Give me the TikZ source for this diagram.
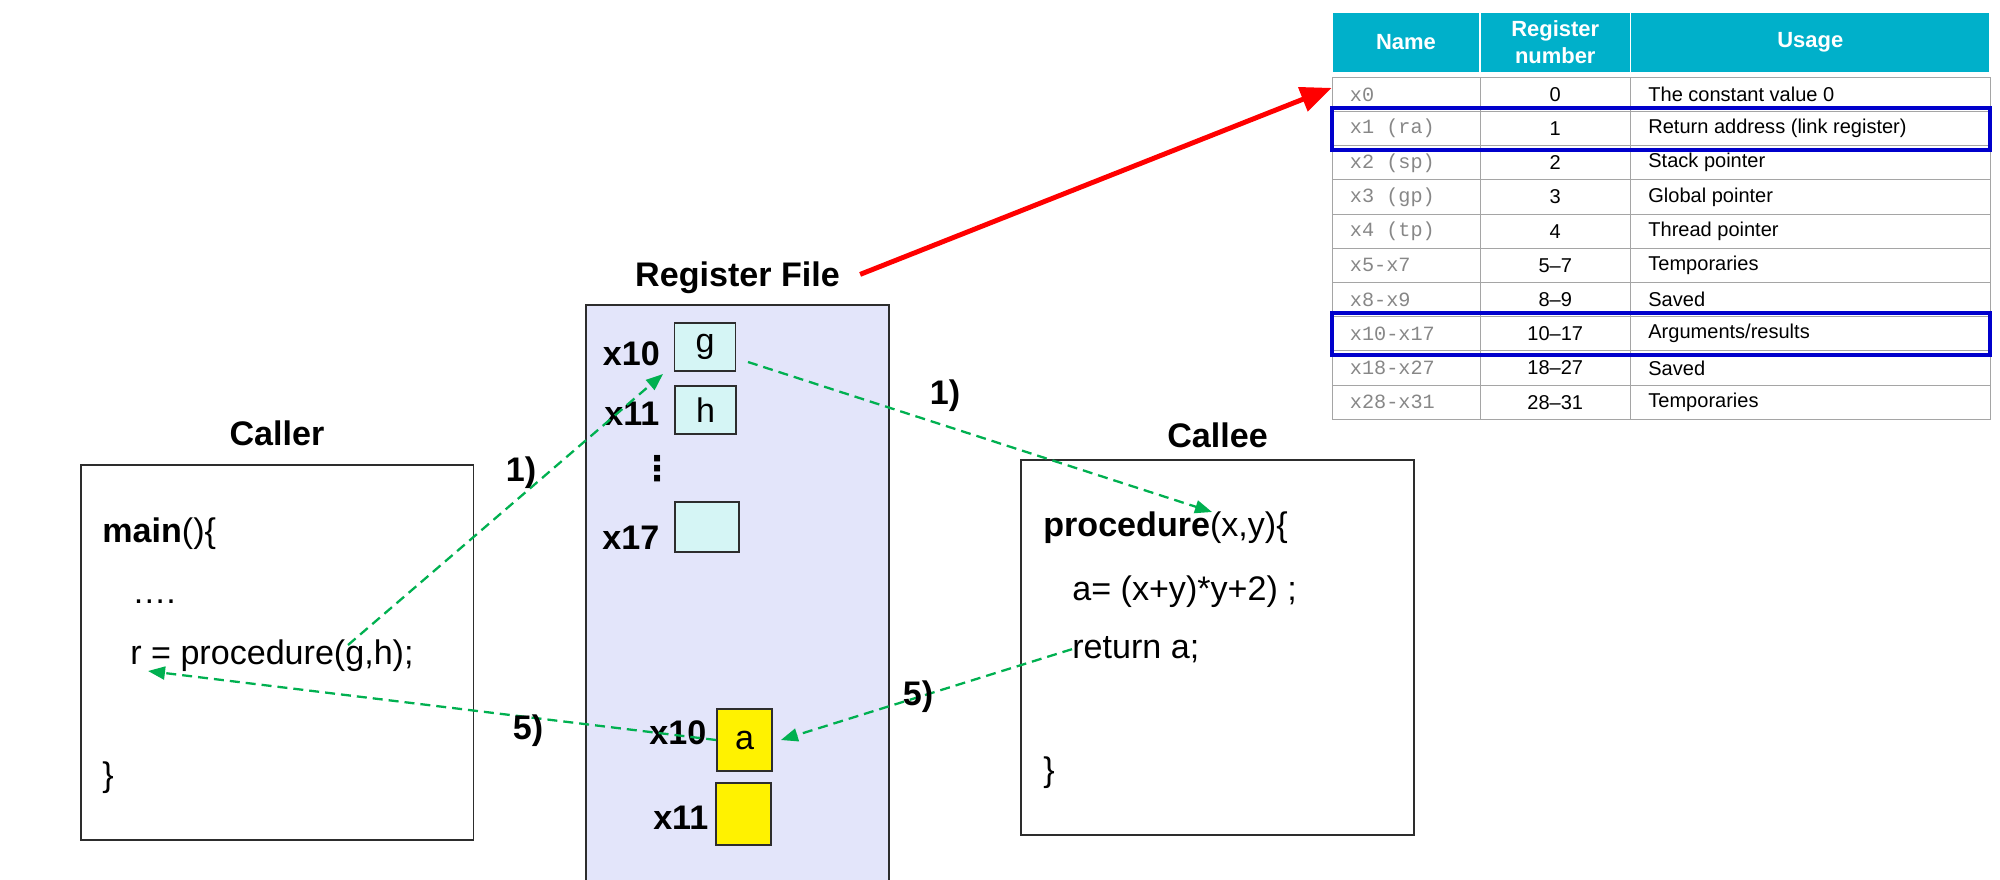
\documentclass[tikz,border=0pt]{standalone}
\usepackage{fontspec}
\setmainfont{Liberation Sans}
\setmonofont{Liberation Mono}
\newfontfamily\dejavu{DejaVu Sans}
\usetikzlibrary{arrows.meta,positioning}
\definecolor{ink}{RGB}{45,45,45}
\definecolor{argcyan}{RGB}{213,245,245}
\definecolor{rflav}{RGB}{227,229,250}
\definecolor{hdrcyan}{RGB}{0,176,202}
\definecolor{flowgreen}{RGB}{0,176,80}
\definecolor{hiblue}{RGB}{0,0,204}
\definecolor{gridgray}{RGB}{165,165,165}
\definecolor{namegray}{RGB}{135,135,135}
\tikzset{
  code/.style={anchor=base west,inner sep=0pt,font=\fontsize{19.4}{23}\selectfont},
  title/.style={inner sep=0pt,text depth=0pt,font=\fontsize{19.4}{23}\selectfont\bfseries},
  reg/.style={inner sep=0pt,font=\fontsize{19.4}{23}\selectfont\bfseries},
  tag/.style={inner sep=0pt,font=\fontsize{19.4}{23}\selectfont\bfseries},
  frame/.style={draw=ink,line width=1.1pt,inner sep=0pt,fill=#1,
    minimum width=7.86cm,minimum height=7.5cm},
  frame/.default=white,
  cell/.style={draw=ink,line width=1pt,fill=#1,inner sep=0pt,
    minimum width=1.22cm,minimum height=0.96cm,font=\fontsize{19.4}{23}\selectfont},
  cell/.default=argcyan,
  flow/.style={-{Triangle[length=0.34cm,width=0.26cm]},draw=flowgreen,
    line width=1.3pt,dash pattern=on 0.2cm off 0.12cm},
  pointer/.style={-{Triangle[length=0.62cm,width=0.5cm]},draw=red,line width=2.8pt},
  hdr/.style={fill=hdrcyan,draw=white,line width=1pt,text=white,inner sep=0pt,
    minimum height=1.232cm,align=center,font=\fontsize{12.5}{15.4}\selectfont\bfseries},
  rowbox/.style={draw=gridgray,line width=0.5pt,inner sep=0pt,
    minimum width=13.16cm,minimum height=0.684cm},
  nm/.style={anchor=west,inner sep=0pt,text=namegray,font=\fontsize{11.5}{13}\selectfont\ttfamily},
  num/.style={inner sep=0pt,font=\fontsize{11.4}{13}\selectfont},
  usage/.style={anchor=west,inner sep=0pt,font=\fontsize{11.4}{13}\selectfont},
  hilite/.style={draw=hiblue,line width=2.3pt},
}
\begin{document}
\begin{tikzpicture}[x=0.02cm,y=-0.02cm]
  \path[use as bounding box,clip] (0,0) rectangle (2000,879);

  % caller
  \node[frame] (caller) at (277,652.5) {};
  \node[title,above=0.37cm of caller] (callertitle) {Caller};
  \node[code] (mainl) at (102,542) {{\bfseries main}()\{};
  \node[code] (dots) at (132,603) {….};
  \node[code] (call) at (130,664) {r = procedure(g,h);};
  \node[code] (mainend) at (102,786) {\}};

  % register file
  \node[frame=rflav,minimum width=6.06cm,minimum height=11.9cm] (regfile) at (737.5,602.5) {};
  \node[title,above=0.34cm of regfile.north] (rftitle) {Register File};
  \node[cell] (g) at (705,347) {g};
  \node[cell] (h) at (705.5,410) {h};
  \node[cell,minimum width=1.28cm,minimum height=1cm] (x17cell) at (707,527) {};
  \node[reg,left=0.27cm of g,yshift=-0.14cm] (x10lbl) {x10};
  \node[reg,left=0.29cm of h,yshift=-0.08cm] (x11lbl) {x11};
  \node[reg,left=0.29cm of x17cell,yshift=-0.22cm] (x17lbl) {x17};
  \node[inner sep=0pt,font=\fontsize{19.4}{23}\selectfont\dejavu\bfseries] (vdts) at (658,469) {⋮};
  \node[cell=yellow,minimum width=1.1cm,minimum height=1.24cm] (a) at (744.5,740) {a};
  \node[cell=yellow,minimum width=1.1cm,minimum height=1.24cm] (ylow) at (743.5,814) {};
  \node[reg,left=0.19cm of a,yshift=0.14cm] (x10low) {x10};
  \node[reg,left=0.13cm of ylow,yshift=-0.08cm] (x11low) {x11};

  % callee
  \node[frame] (callee) at (1217.5,647.5) {};
  \node[title,above=0.22cm of callee] (calleetitle) {Callee};
  \node[code] (proc) at (1043,536) {{\bfseries procedure}(x,y)\{};
  \node[code] (calc) at (1072,600) {a= (x+y)*y+2) ;};
  \node[code] (ret) at (1072,658) {return a;};
  \node[code] (procend) at (1043,781) {\}};

  % register table
  \node[hdr,minimum width=2.96cm] (hname) at (1406,42.5) {Name};
  \node[hdr,minimum width=3.01cm] (hnum) at (1555.25,42.5) {Register\\number};
  \node[hdr,minimum width=7.19cm] (husage) at (1810.25,42.5) {Usage};
  \foreach \nm/\num/\usg [count=\i from 0] in {
      x0/0/The constant value 0,
      x1 (ra)/1/Return address (link register),
      x2 (sp)/2/Stack pointer,
      x3 (gp)/3/Global pointer,
      x4 (tp)/4/Thread pointer,
      x5-x7/5--7/Temporaries,
      x8-x9/8--9/Saved,
      x10-x17/10--17/Arguments\slash results,
      x18-x27/18--27/Saved,
      x28-x31/28--31/Temporaries} {
    \node[rowbox] (row\i) at (1661,{94.4+34.2*\i}) {};
    \node[nm] (nm\i) at ([xshift=0.36cm]row\i.west) {\nm};
    \node[num] (num\i) at (1555.25,{94.4+34.2*\i}) {\num};
    \node[usage] (usg\i) at (1648,{94.4+34.2*\i}) {\usg};
  }
  \draw[gridgray,line width=0.5pt] (1480,77.3) -- (1480,419.3) (1630.5,77.3) -- (1630.5,419.3);
  \draw[hilite] ([yshift=0.07cm]row1.north west) rectangle ([yshift=-0.07cm]row1.south east);
  \draw[hilite] ([yshift=0.07cm]row7.north west) rectangle ([yshift=-0.07cm]row7.south east);

  % arrows
  \coordinate (gArg) at (348,645);
  \coordinate (xTen) at (663,374);
  \coordinate (gOut) at (748,362);
  \coordinate (xArg) at (1212,512);
  \coordinate (rRes) at (148,671);
  \draw[flow] (gArg) -- (xTen);
  \draw[flow] (gOut) -- (xArg);
  \draw[flow] (ret.west) -- ([xshift=0.16cm]a.east);
  \draw[flow] (a.west) -- (rRes);
  \draw[pointer] ([xshift=0.4cm]rftitle.east) -- ([yshift=0.13cm]row0.west);

  \node[tag] (step1a) at (521,473) {1)};
  \node[tag] (step1b) at (945,396) {1)};
  \node[tag] (step5a) at (528,731) {5)};
  \node[tag] (step5b) at (918,697) {5)};
\end{tikzpicture}
\end{document}
